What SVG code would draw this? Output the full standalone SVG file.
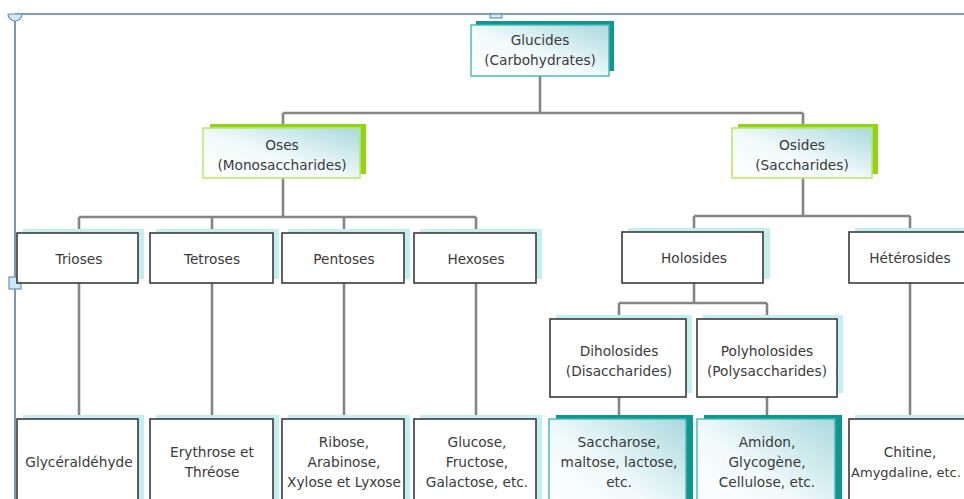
<svg xmlns="http://www.w3.org/2000/svg" width="964" height="499" viewBox="0 0 964 499">
<style>
text{font-family:"DejaVu Sans","Liberation Sans",sans-serif;font-size:13.7px;fill:#3a3a3a;text-anchor:middle}
.box{fill:#fff;stroke:#3a3a3a;stroke-width:1.6}
.sh{fill:#c4eef0}
.tsh{fill:#11968f}
.tbox{fill:url(#tg);stroke:#3fb8b3;stroke-width:1.4}
.gsh{fill:#8fd417}
.gbox{fill:url(#tg);stroke:#bde86e;stroke-width:1.6}
.con{fill:none;stroke:#858585;stroke-width:2.6}
.frame{fill:none;stroke:#5b7ea3;stroke-width:1.6}
.handle{fill:#cfe8f5;stroke:#6f8fb0;stroke-width:1.2}
</style>
<defs>
<linearGradient id="tg" x1="0" y1="1" x2="1" y2="0">
<stop offset="0" stop-color="#ffffff"/>
<stop offset="0.45" stop-color="#f2fafb"/>
<stop offset="1" stop-color="#a9d9de"/>
</linearGradient>
</defs>
<rect width="964" height="499" fill="#fff"/>
<g id="frame">
<path class="frame" d="M15,14H964M15,14V499"/>
<path class="handle" d="M8,14A7,7 0 0 0 22,14Z"/>
<rect class="handle" x="490" y="14" width="12" height="4"/>
<rect class="handle" x="9" y="277" width="12" height="12"/>
</g>
<g id="connectors">
<path class="con" d="M540,76V113M283,113H803M283,113V128M803,113V128"/>
<path class="con" d="M283,178V217M79,217H476M79,217V233M212,217V233M344,217V233M476,217V233"/>
<path class="con" d="M79,283V419M212,283V419M344,283V419M476,283V419"/>
<path class="con" d="M803,178V216M694,216H910M694,216V232M910,216V232"/>
<path class="con" d="M694,283V303M619,303H767M619,303V319M767,303V319"/>
<path class="con" d="M619,397V419M767,397V419M910,283V419"/>
</g>
<g id="glucides">
<rect class="tsh" x="476" y="21" width="138" height="50"/>
<rect class="tbox" x="471" y="25" width="138" height="51"/>
<text x="540" y="45">Glucides</text>
<text x="540" y="65">(Carbohydrates)</text>
</g>
<g id="oses">
<rect class="gsh" x="210" y="124" width="156" height="50"/>
<rect class="gbox" x="203" y="128" width="157" height="50"/>
<text x="282" y="150">Oses</text>
<text x="282" y="170">(Monosaccharides)</text>
</g>
<g id="osides">
<rect class="gsh" x="738" y="124" width="140" height="50"/>
<rect class="gbox" x="732" y="128" width="140" height="50"/>
<text x="802" y="150">Osides</text>
<text x="802" y="170">(Saccharides)</text>
</g>
<g id="trioses">
<rect class="sh" x="23" y="229" width="121" height="50"/>
<rect class="box" x="17" y="233" width="121" height="50"/>
<text x="79" y="264">Trioses</text>
</g>
<g id="tetroses">
<rect class="sh" x="156" y="229" width="123" height="50"/>
<rect class="box" x="150" y="233" width="123" height="50"/>
<text x="212" y="264">Tetroses</text>
</g>
<g id="pentoses">
<rect class="sh" x="288" y="229" width="122" height="50"/>
<rect class="box" x="282" y="233" width="122" height="50"/>
<text x="344" y="264">Pentoses</text>
</g>
<g id="hexoses">
<rect class="sh" x="420" y="229" width="122" height="50"/>
<rect class="box" x="414" y="233" width="122" height="50"/>
<text x="476" y="264">Hexoses</text>
</g>
<g id="holosides">
<rect class="sh" x="628" y="228" width="142" height="51"/>
<rect class="box" x="622" y="232" width="141" height="51"/>
<text x="694" y="263">Holosides</text>
</g>
<g id="heterosides">
<rect class="sh" x="855" y="228" width="130" height="51"/>
<rect class="box" x="849" y="232" width="130" height="51"/>
<text x="910" y="263">Hétérosides</text>
</g>
<g id="diholosides">
<rect class="sh" x="556" y="315" width="136" height="78"/>
<rect class="box" x="550" y="319" width="136" height="78"/>
<text x="619" y="356">Diholosides</text>
<text x="619" y="376">(Disaccharides)</text>
</g>
<g id="polyholosides">
<rect class="sh" x="703" y="315" width="140" height="78"/>
<rect class="box" x="697" y="319" width="140" height="78"/>
<text x="767" y="356">Polyholosides</text>
<text x="767" y="376">(Polysaccharides)</text>
</g>
<g id="glyceraldehyde">
<rect class="sh" x="23" y="415" width="121" height="100"/>
<rect class="box" x="17" y="419" width="121" height="100"/>
<text x="79" y="467">Glycéraldéhyde</text>
</g>
<g id="erythrose">
<rect class="sh" x="156" y="415" width="123" height="100"/>
<rect class="box" x="150" y="419" width="123" height="100"/>
<text x="212" y="457">Erythrose et</text>
<text x="212" y="477">Thréose</text>
</g>
<g id="ribose">
<rect class="sh" x="288" y="415" width="122" height="100"/>
<rect class="box" x="282" y="419" width="122" height="100"/>
<text x="344" y="447">Ribose,</text>
<text x="344" y="467">Arabinose,</text>
<text x="344" y="487">Xylose et Lyxose</text>
</g>
<g id="glucose">
<rect class="sh" x="420" y="415" width="122" height="100"/>
<rect class="box" x="414" y="419" width="122" height="100"/>
<text x="477" y="447">Glucose,</text>
<text x="477" y="467">Fructose,</text>
<text x="477" y="487">Galactose, etc.</text>
</g>
<g id="saccharose">
<rect class="tsh" x="556" y="415" width="137" height="100"/>
<rect class="tbox" x="549" y="419" width="137" height="100"/>
<text x="619" y="447">Saccharose,</text>
<text x="619" y="467">maltose, lactose,</text>
<text x="619" y="487">etc.</text>
</g>
<g id="amidon">
<rect class="tsh" x="704" y="415" width="138" height="100"/>
<rect class="tbox" x="697" y="419" width="138" height="100"/>
<text x="767" y="447">Amidon,</text>
<text x="767" y="467">Glycogène,</text>
<text x="767" y="487">Cellulose, etc.</text>
</g>
<g id="chitine">
<rect class="sh" x="855" y="415" width="130" height="100"/>
<rect class="box" x="849" y="419" width="130" height="100"/>
<text x="910" y="457">Chitine,</text>
<text x="906" y="477" style="font-size:13px">Amygdaline, etc.</text>
</g>
</svg>
